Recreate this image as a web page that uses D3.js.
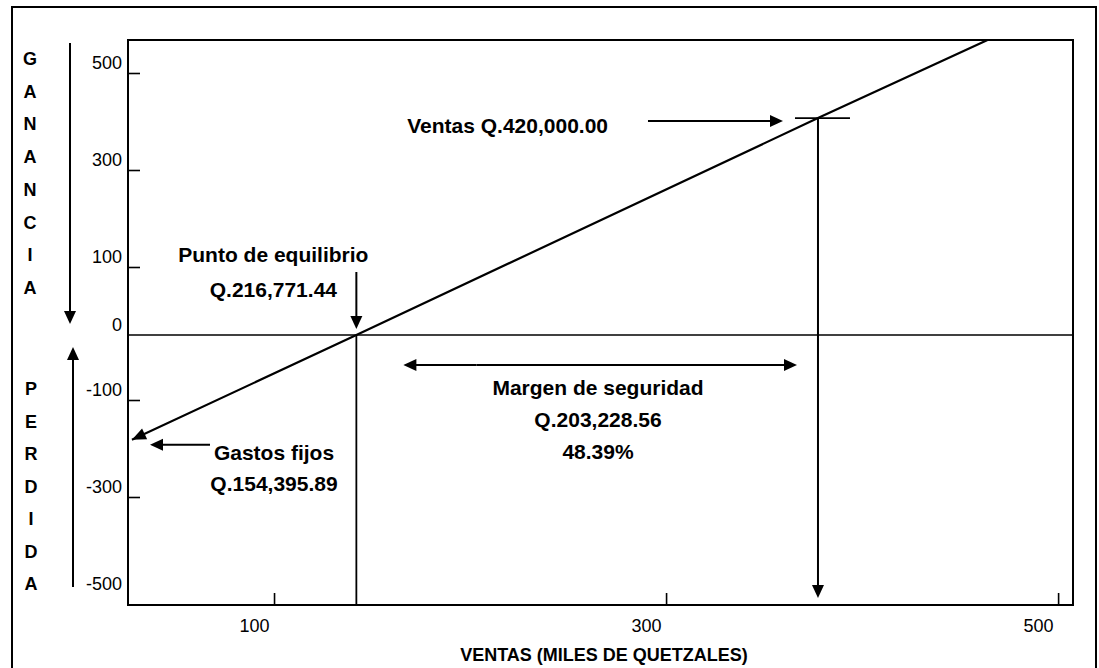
<!DOCTYPE html>
<html>
<head>
<meta charset="utf-8">
<script src="https://cdn.jsdelivr.net/npm/d3@7"></script>
<style>
  html, body { margin: 0; padding: 0; background: #fff; }
  svg { display: block; }
  text { font-family: "Liberation Sans", Arial, sans-serif; fill: #000; }
</style>
</head>
<body>
<svg id="chart" width="1099" height="668"></svg>
<script>
// ---- data (the drawing is schematic) ----
const xTicks = [100, 300, 500];
const yTicks = [500, 300, 100, 0, -100, -300, -500];
const xExtent = [25.5, 507.6];
const yBreaks = [-523, -500, -300, -100, 0, 100, 300, 500, 568];   // broken (schematic) profit axis
const salesLineX = [27.5, 142, 377.5, 464];
const salesLineY = [-182, 0, 407, 568];
const breakEvenX = 142;
const salesX = 377.5;
const salesY = 407;
const fixedCostY = -182;
const gainLetters = ["G", "A", "N", "A", "N", "C", "I", "A"];
const lossLetters = ["P", "E", "R", "D", "I", "D", "A"];
const breakEvenLabel = ["Punto de equilibrio", "Q.216,771.44"];
const salesLabel = "Ventas Q.420,000.00";
const marginLabel = ["Margen de seguridad", "Q.203,228.56", "48.39%"];
const fixedCostLabel = ["Gastos fijos", "Q.154,395.89"];
const xTitle = "VENTAS (MILES DE QUETZALES)";

// ---- layout ----
const svg = d3.select("#chart");
const L = 128, R = 1073, T = 40, B = 605;

const x = d3.scaleLinear().domain(xExtent).range([L, R]);
const y = d3.scaleLinear().domain(yBreaks).range([605, 594, 497, 400, 335, 267, 170, 73, 40]);

// outer frame
svg.append("rect").attr("x", 12).attr("y", 7).attr("width", 1084).attr("height", 700)
  .attr("fill", "none").attr("stroke", "#000").attr("stroke-width", 2);

// plot box
svg.append("rect").attr("x", L).attr("y", T).attr("width", R - L).attr("height", B - T)
  .attr("fill", "none").attr("stroke", "#000").attr("stroke-width", 2);

// arrow helper
function arrow(g, x1, y1, x2, y2, opts = {}) {
  const len = opts.len || 13, hw = opts.hw || 6, sw = opts.sw || 2;
  const dx = x2 - x1, dy = y2 - y1, d = Math.hypot(dx, dy);
  const ux = dx / d, uy = dy / d;
  const bx = x2 - ux * len, by = y2 - uy * len;
  g.append("line").attr("x1", x1).attr("y1", y1).attr("x2", bx + ux * 2).attr("y2", by + uy * 2)
    .attr("stroke", "#000").attr("stroke-width", sw);
  g.append("path")
    .attr("d", `M${x2},${y2}L${bx - uy * hw},${by + ux * hw}L${bx + uy * hw},${by - ux * hw}Z`)
    .attr("fill", "#000");
}

// y axis
const yAxis = svg.append("g").attr("transform", `translate(${L},0)`)
  .call(d3.axisLeft(y).tickValues(yTicks).tickFormat(d => String(d))
    .tickSize(-12).tickSizeOuter(0).tickPadding(6));
yAxis.select(".domain").remove();
yAxis.selectAll(".tick line").attr("stroke", "#000").attr("stroke-width", 1.6)
  .attr("display", d => (d === -500 || d === 0) ? "none" : null);
yAxis.selectAll(".tick text").attr("dy", null).attr("y", -5)
  .style("font-size", "18px").attr("fill", "#000");

// x axis
const xAxis = svg.append("g").attr("transform", `translate(0,${B})`)
  .call(d3.axisBottom(x).tickValues(xTicks).tickFormat(d => String(d))
    .tickSize(-12).tickSizeOuter(0).tickPadding(6));
xAxis.select(".domain").remove();
xAxis.selectAll(".tick line").attr("stroke", "#000").attr("stroke-width", 1.6);
xAxis.selectAll(".tick text").attr("dy", null).attr("y", 27).attr("x", -20)
  .style("font-size", "18px").attr("fill", "#000");

// x title
svg.append("text").attr("x", 604).attr("y", 661).attr("text-anchor", "middle")
  .style("font-size", "18px").style("font-weight", "bold").text(xTitle);

// zero line
svg.append("line").attr("x1", L).attr("x2", R).attr("y1", y(0)).attr("y2", y(0))
  .attr("stroke", "#000").attr("stroke-width", 1.6);

// side letters and arrows
const side = svg.append("g");
side.selectAll("text.gain").data(gainLetters).join("text").attr("class", "gain")
  .attr("x", 30).attr("y", (d, i) => 65 + i * 32.7).attr("text-anchor", "middle")
  .style("font-size", "18px").style("font-weight", "bold").text(d => d);
side.selectAll("text.loss").data(lossLetters).join("text").attr("class", "loss")
  .attr("x", 31).attr("y", (d, i) => 395 + i * 32.5).attr("text-anchor", "middle")
  .style("font-size", "18px").style("font-weight", "bold").text(d => d);
arrow(side, 70, 43, 70, 324, { len: 13, hw: 6 });
arrow(side, 73, 587, 73, 347, { len: 13, hw: 6 });

// cost-volume-profit line
const pts = salesLineX.map((v, i) => [x(v), y(salesLineY[i])]);
const ann = svg.append("g");
ann.append("path").attr("d", d3.line()(pts))
  .attr("fill", "none").attr("stroke", "#000").attr("stroke-width", 2.2);
// arrowhead at the fixed-cost intercept
arrow(ann, pts[1][0], pts[1][1], pts[0][0], pts[0][1], { len: 14, hw: 6, sw: 0.01 });

// break-even
const bx = x(breakEvenX), by = y(0);
ann.append("line").attr("x1", bx).attr("x2", bx).attr("y1", by).attr("y2", B)
  .attr("stroke", "#000").attr("stroke-width", 1.8);
arrow(ann, bx, by - 63, bx, by - 6);
ann.selectAll("text.be").data(breakEvenLabel).join("text").attr("class", "be")
  .attr("x", bx - 83).attr("y", (d, i) => 262 + i * 35).attr("text-anchor", "middle")
  .style("font-size", "21px").style("font-weight", "bold").text(d => d);

// sales
const sx = x(salesX), sy = y(salesY);
ann.append("line").attr("x1", sx - 23).attr("x2", sx + 32).attr("y1", sy).attr("y2", sy)
  .attr("stroke", "#000").attr("stroke-width", 1.8);
arrow(ann, sx, sy, sx, B - 7);
arrow(ann, sx - 170, sy + 3, sx - 35, sy + 3);
ann.append("text").attr("x", 608).attr("y", 133).attr("text-anchor", "end")
  .style("font-size", "21px").style("font-weight", "bold").text(salesLabel);

// margin of safety
const my = by + 30;
arrow(ann, bx + 120, my, bx + 47, my);
arrow(ann, bx + 120, my, sx - 21, my);
ann.selectAll("text.mg").data(marginLabel).join("text").attr("class", "mg")
  .attr("x", 598).attr("y", (d, i) => 395 + i * 32).attr("text-anchor", "middle")
  .style("font-size", "21px").style("font-weight", "bold").text(d => d);

// fixed costs
const fy = y(fixedCostY);
arrow(ann, L + 82, fy + 5, L + 22, fy + 5);
ann.selectAll("text.fc").data(fixedCostLabel).join("text").attr("class", "fc")
  .attr("x", 274).attr("y", (d, i) => 460 + i * 31).attr("text-anchor", "middle")
  .style("font-size", "21px").style("font-weight", "bold").text(d => d);
</script>
</body>
</html>
